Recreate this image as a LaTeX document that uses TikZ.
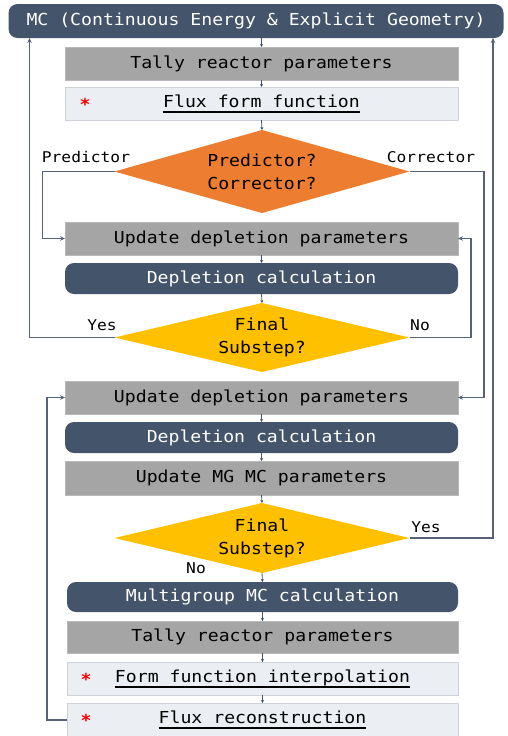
\documentclass[tikz,border=0pt]{standalone}
\usepackage{fontspec}
\usetikzlibrary{shapes.geometric,arrows.meta}
\newfontfamily\cons[FakeStretch=1.1]{DejaVu Sans Mono}
\definecolor{dk}{HTML}{44546A}
\definecolor{ln}{HTML}{56627A}
\definecolor{org}{HTML}{ED7D31}
\definecolor{yel}{HTML}{FFC000}
\definecolor{gr}{HTML}{A5A5A5}
\definecolor{grb}{HTML}{B8B8B8}
\definecolor{lt}{HTML}{EBEEF2}
\definecolor{ltb}{HTML}{CDD2D8}
\newcommand\myul[1]{\setbox0\hbox{#1}\leavevmode\rlap{\rule[-5.5pt]{\wd0}{1.7pt}}\box0}
\begin{document}
\begin{tikzpicture}[x=1pt,y=-1pt,
  every node/.style={font=\cons\fontsize{16.5}{23}\selectfont, inner sep=0pt, outer sep=0pt},
  graybox/.style={rectangle, fill=gr, draw=grb, line width=0.6pt, minimum width=393pt, minimum height=33pt, text=black},
  darkbox/.style={rectangle, rounded corners=9pt, fill=dk, minimum width=393pt, minimum height=31pt, text=white},
  lightbox/.style={rectangle, fill=lt, draw=ltb, line width=0.8pt, minimum width=393pt, minimum height=33pt, text=black},
  dia/.style={diamond, minimum width=295pt, text=black, align=center},
  lbl/.style={font=\cons\fontsize{14.8}{18}\selectfont, text=black},
  ast/.style={text=red, font=\cons\bfseries\fontsize{16.5}{20}\selectfont},
  flow/.style={draw=ln, line width=1.1pt, -{Stealth[length=5pt,width=4.5pt]}},
  tiny/.style={draw=dk, line width=0.8pt, -{Stealth[length=3pt,width=3pt]}},
]
\useasboundingbox (0,0) rectangle (507,736);
% boxes
\node[darkbox, minimum width=495pt, minimum height=34pt] (mc) at (256,21) {MC (Continuous Energy \& Explicit Geometry)};
\node[graybox] (tally1) at (261.5,63.5) {Tally reactor parameters};
\node[lightbox] (flux1) at (261.5,103.5) {\myul{Flux form function}};
\node[ast] (ast1) at (85,104) {*};
\node[dia, fill=org, minimum height=83pt, shape aspect=3.5] (pc) at (262,171.5) {Predictor?\\Corrector?};
\node[graybox] (upd1) at (261.5,238.5) {Update depletion parameters};
\node[darkbox] (dep1) at (261.5,278.5) {Depletion calculation};
\node[dia, fill=yel, minimum height=69pt, shape aspect=4.2] (fs1) at (262,337.5) {Final\\Substep?};
\node[graybox] (upd2) at (261.5,397.5) {Update depletion parameters};
\node[darkbox] (dep2) at (261.5,437.5) {Depletion calculation};
\node[graybox, minimum height=34pt] (mg) at (261.5,478) {Update MG MC parameters};
\node[dia, fill=yel, minimum height=70pt, shape aspect=4.2] (fs2) at (262,538) {Final\\Substep?};
\node[darkbox, minimum width=391pt, minimum height=30pt] (mgmc) at (262.5,597) {Multigroup MC calculation};
\node[graybox, minimum width=391pt, minimum height=32pt] (tally2) at (262.5,637) {Tally reactor parameters};
\node[lightbox, minimum width=391pt] (ffi) at (262.5,678.5) {\myul{Form function interpolation}};
\node[ast] (ast2) at (86,679) {*};
\node[lightbox, minimum width=391pt, minimum height=34pt] (fr) at (262.5,720) {\myul{Flux reconstruction}};
\node[ast] (ast3) at (86,720.5) {*};
% labels
\node[lbl] (lp) at (86,157) {Predictor};
\node[lbl] (lc) at (431,157) {Corrector};
\node[lbl] (ly1) at (102,325) {Yes};
\node[lbl] (ln1) at (420,325) {No};
\node[lbl] (ly2) at (426,527) {Yes};
\node[lbl] (ln2) at (196,568) {No};
% short arrows
\draw[tiny] (tally1.north |- mc.south) -- (tally1.north);
\draw[tiny] (tally1.south) -- (flux1.north);
\draw[tiny] (flux1.south) -- (pc.north);
\draw[tiny] (upd1.south) -- (dep1.north);
\draw[tiny] (dep1.south) -- (fs1.north);
\draw[tiny] (upd2.south) -- (dep2.north);
\draw[tiny] (dep2.south) -- (mg.north);
\draw[tiny] (mg.south) -- (fs2.north);
\draw[tiny] (fs2.south) -- (mgmc.north);
\draw[tiny] (mgmc.south) -- (tally2.north);
\draw[tiny] (tally2.south) -- (ffi.north);
\draw[tiny] (ffi.south) -- (fr.north);
% loops
\coordinate (xl1) at (29.5,0);
\coordinate (xr2) at (493,0);
\draw[flow] (pc.west) -- ++(-72,0) |- (upd1.west);
\draw[flow] (pc.east) -- ++(74.5,0) |- (upd2.east);
\draw[flow] (fs1.west) -- ++(-85,0) -- (xl1 |- mc.south);
\draw[flow] (fs1.east) -- ++(61.5,0) |- (upd1.east);
\draw[flow] (fs2.east) -- ++(83.5,0) -- (xr2 |- mc.south);
\draw[flow] (fr.west) -- ++(-20,0) |- (upd2.west);
\end{tikzpicture}
\end{document}
